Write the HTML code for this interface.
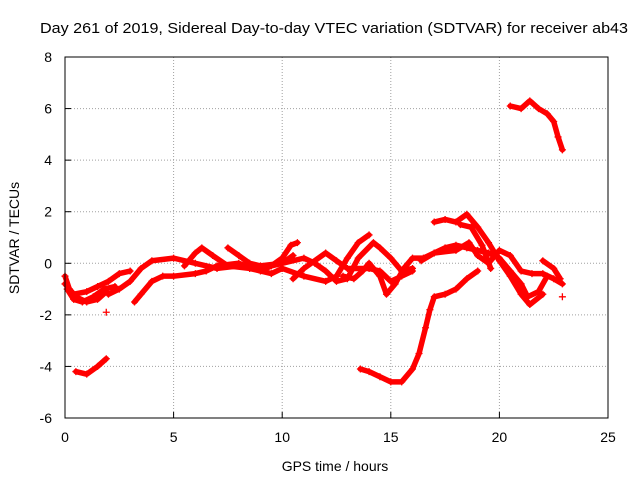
<!DOCTYPE html>
<html><head><meta charset="utf-8"><style>
body{margin:0;background:#fff}
svg{display:block;font-family:"Liberation Sans",sans-serif}
</style></head><body>
<svg id="c" width="640" height="480" viewBox="0 0 640 480">
<text x="40" y="33" font-size="15" textLength="588" lengthAdjust="spacingAndGlyphs">Day 261 of 2019, Sidereal Day-to-day VTEC variation (SDTVAR) for receiver ab43</text>
<text x="335" y="471" font-size="14" text-anchor="middle">GPS time / hours</text>
<text transform="translate(19,238) rotate(-90)" font-size="14" text-anchor="middle">SDTVAR / TECUs</text>
<g id="grid"></g>
<g id="ticks"></g>
<g id="marks"></g>
<rect x="65" y="57" width="543" height="361" fill="none" stroke="#000"/>
</svg>
<script>
const xTicks=[0,5,10,15,20,25];
const yTicks=[-6,-4,-2,0,2,4,6,8];
const trackA=[[0,-0.5],[0.2,-1.0],[0.5,-1.3],[1.0,-1.5],[1.5,-1.4],[1.9,-1.1]];
const trackB=[[0,-0.8],[0.4,-1.2],[1,-1.1],[1.5,-0.9],[2,-0.7],[2.5,-0.4],[3,-0.3]];
const trackC=[[2,-1.2],[2.5,-1.0],[3,-0.7],[3.5,-0.2],[4,0.1],[5,0.2],[6,0],[7,-0.2],[8,-0.1],[9,-0.2],[10,0],[10.5,0.3]];
const trackD=[[3.2,-1.5],[3.5,-1.2],[4,-0.7],[4.5,-0.5],[5,-0.5],[6,-0.4],[6.5,-0.3],[7,-0.1],[8,0],[9,-0.3],[9.5,-0.1],[10,0.2],[10.4,0.7],[10.7,0.8]];
const trackE=[[5.5,-0.1],[6,0.4],[6.3,0.6],[6.8,0.3],[7.5,-0.1],[8.5,-0.2],[9.5,-0.4],[10,-0.2],[11,-0.5],[12,-0.7],[12.5,-0.5],[13,0.2],[13.5,0.8],[14,1.1]];
const trackF=[[7.5,0.6],[8,0.3],[8.5,0],[9,-0.1],[10,0],[11,0.2],[11.5,0],[12,-0.3],[12.5,-0.7],[13,-0.6],[13.5,0.2],[14.2,0.8],[14.5,0.6],[15,0.2],[15.5,-0.3],[16,-0.2]];
const trackG=[[10.5,-0.6],[11,-0.2],[12,0.4],[12.5,0.1],[13,-0.2],[14,-0.2],[14.5,-0.3],[15,-0.7],[15.5,-0.5],[16,-0.3]];
const trackH=[[12.8,-0.5],[13.3,-0.6],[13.7,-0.3],[14,0],[14.5,-0.5],[14.8,-1.2],[15.2,-0.8],[15.6,-0.2],[16,0.2],[16.5,0.2],[17,0.4],[17.5,0.6],[18,0.7],[18.5,0.6],[19,0.5],[19.5,0.4],[20,0.2],[20.5,-0.3],[21,-0.8],[21.3,-1.3],[21.8,-1.1],[22.2,-0.5]];
const trackI=[[16.4,0.1],[17,0.4],[18,0.5],[18.6,0.8],[19,0.3],[19.5,0],[20,0.5],[20.5,0.3],[21,-0.3],[21.5,-0.4],[22,-0.4],[22.5,-0.6],[22.9,-0.8]];
const trackJ=[[17,1.6],[17.5,1.7],[18,1.6],[18.5,1.9],[19,1.4],[19.5,0.8],[20,0.1],[20.5,-0.5],[21,-1.2],[21.4,-1.6],[22,-1.2]];
const trackK=[[18.2,1.5],[18.7,1.4],[19.2,0.7],[19.6,-0.2]];
const trackL=[[22,0.1],[22.5,-0.2],[22.8,-0.6]];
const trackM=[[20.5,6.1],[21,6.0],[21.4,6.3],[21.8,6.0],[22.2,5.8],[22.5,5.5],[22.7,4.9],[22.9,4.4]];
const trackN=[[0.5,-4.2],[1,-4.3],[1.5,-4.0],[1.9,-3.7]];
const trackO=[[13.6,-4.1],[14,-4.2],[14.5,-4.4],[15,-4.6],[15.5,-4.6],[16,-4.1],[16.3,-3.5],[16.6,-2.5],[16.8,-1.8],[17,-1.3],[17.5,-1.2],[18,-1.0],[18.5,-0.6],[19,-0.3]];
const trackP=[[0.1,-1.0],[0.4,-1.4],[0.8,-1.5],[1.3,-1.3],[1.8,-1.0],[2.3,-0.9]];
const isolated=[[1.9,-1.9],[22.9,-1.3]];
const tracks=[trackA,trackB,trackC,trackD,trackE,trackF,trackG,trackH,trackI,trackJ,trackK,trackL,trackM,trackN,trackO,trackP];
const NS="http://www.w3.org/2000/svg";
const X=t=>65+t/25*543;
const Y=v=>418-(v+6)/14*361;
function mk(tag,attrs,parent){const e=document.createElementNS(NS,tag);for(const k in attrs)e.setAttribute(k,attrs[k]);parent.appendChild(e);return e;}
const grid=document.getElementById('grid'),ticks=document.getElementById('ticks'),marks=document.getElementById('marks');
xTicks.forEach(t=>{
 if(t>0&&t<25){const l=mk('line',{x1:X(t),x2:X(t),y1:57,y2:418,stroke:'#a0a0a0','stroke-dasharray':'1,2'},grid);
 
 }
 const tl=mk('line',{x1:X(t),x2:X(t),y1:418,y2:412,stroke:'#000'},ticks);
 
 
 const tx=mk('text',{x:X(t),y:442,'font-size':14,'text-anchor':'middle'},ticks);tx.textContent=t;
 
 
});
yTicks.forEach(v=>{
 if(v>-6&&v<8){const l=mk('line',{x1:65,x2:608,y1:Y(v),y2:Y(v),stroke:'#a0a0a0','stroke-dasharray':'1,2'},grid);
 
 }
 const tl=mk('line',{x1:65,x2:71,y1:Y(v),y2:Y(v),stroke:'#000'},ticks);
 
 
 const tx=mk('text',{x:52,y:Y(v)+5,'font-size':14,'text-anchor':'end'},ticks);tx.textContent=v;
 
 
});
tracks.forEach(tr=>{
 const p=mk('polyline',{points:tr.map(d=>X(d[0])+','+Y(d[1])).join(' '),fill:'none',stroke:'#f00','stroke-width':5.5,'stroke-linejoin':'round','stroke-linecap':'round'},marks);
 
 
});
function plus(d){const x=X(d[0]),y=Y(d[1]);
 const p=mk('path',{d:`M${x-3.5},${y}H${x+3.5}M${x},${y-3.5}V${y+3.5}`,stroke:'#f00','stroke-width':1.3},marks);
 
 }
tracks.forEach(tr=>tr.forEach(plus));
isolated.forEach(plus);
</script>
</body></html>
